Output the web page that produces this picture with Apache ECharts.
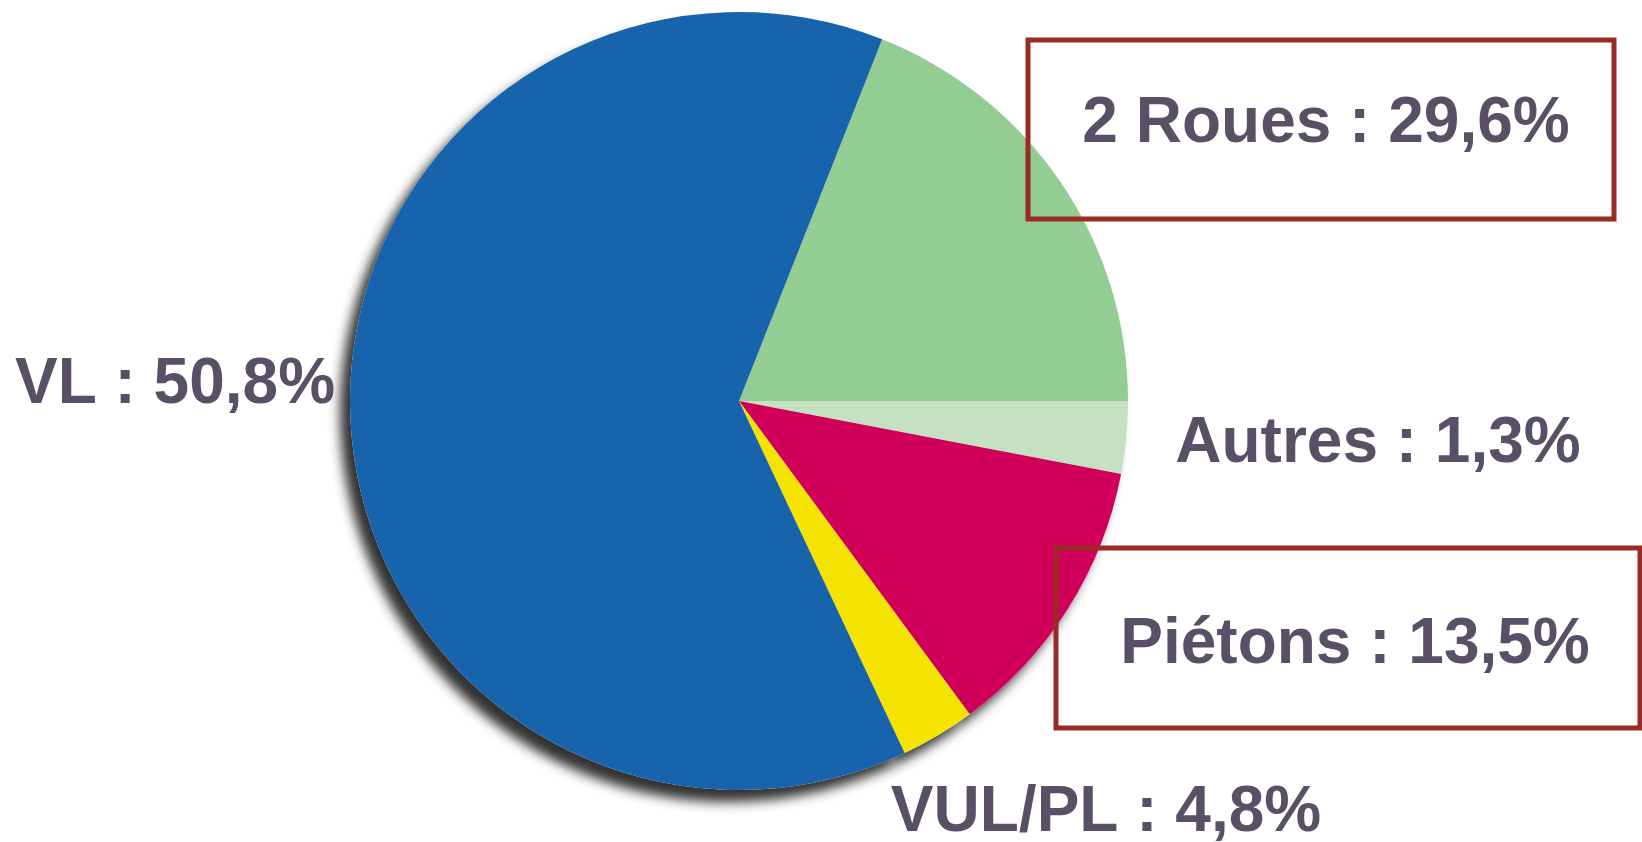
<!DOCTYPE html>
<html>
<head>
<meta charset="utf-8">
<script src="https://cdn.jsdelivr.net/npm/echarts@6/dist/echarts.min.js"></script>
<style>
  html, body { margin: 0; padding: 0; background: #fff; }
  #main { width: 1642px; height: 842px; }
</style>
</head>
<body>
<div id="main"></div>
<script>
'use strict';

// categories, clockwise from the top edge of the green slice
var names = ['2 Roues', 'Autres', 'Piétons', 'VUL/PL', 'VL'];
// percentages printed in the labels
var shown = ['29,6%', '1,3%', '13,5%', '4,8%', '50,8%'];
// slice sizes as drawn (angle share)
var sizes = [19.0, 3.0, 11.9, 3.1, 63.0];
var colors = ['#93cd93', '#c5e1c2', '#d0005a', '#f5e400', '#1764ad'];

// where each label sits (centre of text)
var labelPos = [[1326, 124], [1378, 444], [1355, 645], [1106, 813], [175, 385]];

function draw() {
    var chart = echarts.init(document.getElementById('main'));
    var data = [];
    for (var i = 0; i < names.length; i++) {
        data.push({ name: names[i], value: sizes[i], itemStyle: { color: colors[i] } });
    }
    var option = {
        backgroundColor: '#fff',
        animation: false,
        series: [
            {
                // shadow underlay
                type: 'pie',
                silent: true,
                center: [739, 401],
                radius: 389,
                startAngle: 68.4,
                label: { show: false },
                labelLine: { show: false },
                itemStyle: {
                    color: '#fff',
                    borderWidth: 0,
                    shadowBlur: 12,
                    shadowColor: 'rgba(40,40,40,0.95)',
                    shadowOffsetX: -10,
                    shadowOffsetY: 12
                },
                data: sizes.slice()
            },
            {
                type: 'pie',
                center: [739, 401],
                radius: 389,
                startAngle: 68.4,
                avoidLabelOverlap: false,
                itemStyle: { borderWidth: 0 },
                label: {
                    show: true,
                    formatter: function (p) {
                        return names[p.dataIndex] + ' : ' + shown[p.dataIndex];
                    },
                    fontFamily: '"Liberation Sans", Arial, sans-serif',
                    fontWeight: 'bold',
                    fontSize: 64,
                    color: '#594f66'
                },
                labelLine: { show: false },
                labelLayout: function (p) {
                    var pos = labelPos[p.dataIndex];
                    return { x: pos[0], y: pos[1], align: 'center', verticalAlign: 'middle' };
                },
                data: data
            }
        ],
        graphic: [
            {
                type: 'rect', z: 100,
                shape: { x: 1028, y: 40, width: 586, height: 179 },
                style: { fill: 'none', stroke: '#992a24', lineWidth: 5 }
            },
            {
                type: 'rect', z: 100,
                shape: { x: 1056, y: 548, width: 584, height: 180 },
                style: { fill: 'none', stroke: '#992a24', lineWidth: 5 }
            }
        ]
    };
    chart.setOption(option);
}

draw();
</script>
</body>
</html>
